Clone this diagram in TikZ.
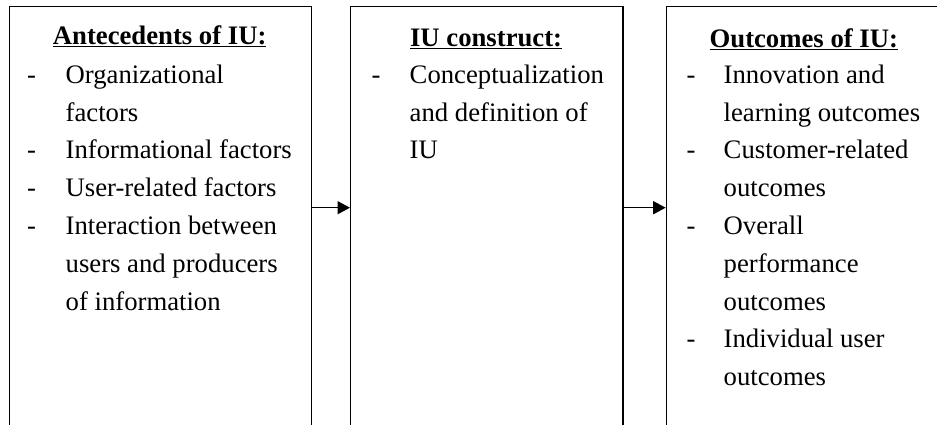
\documentclass[tikz,border=0pt]{standalone}
\usepackage{fontspec}
\setmainfont{Liberation Serif}
\usetikzlibrary{arrows.meta}
\begin{document}
\begin{tikzpicture}[x=1pt,y=-1pt,
  panel/.style={draw, line width=1.4pt, anchor=north west, inner sep=0pt},
  head/.style={anchor=base, inner sep=0pt, font=\fontsize{26.7}{32}\selectfont\bfseries},
  entry/.style={anchor=base west, inner sep=0pt, font=\fontsize{26.7}{32}\selectfont},
  link/.style={line width=1.4pt, -{Triangle[length=12.5pt,width=13pt]}}]
\useasboundingbox (0,0) rectangle (937,424);
\begin{scope}
\clip (0,0) rectangle (937,424);
% the three panels, running past the lower edge
\node[panel, minimum width=301.5pt, minimum height=460pt] (ante) at (9,6) {};
\node[panel, minimum width=272.3pt, minimum height=460pt] (cons) at (350,6) {};
\node[panel, minimum width=276pt, minimum height=460pt] (outc) at (665.7,6) {};

% headings
\node[head] (ah) at (159.7,44.5) {\underline{Antecedents of IU:}};
\node[head] (ch) at (486.1,46.5) {\underline{IU construct:}};
\node[head] (oh) at (803.8,47.5) {\underline{Outcomes of IU:}};

% antecedents
\foreach \k in {0,2,3,4}
  \node[entry] (ad\k) at (27,83.3+37.8*\k) {-};
\foreach \k/\t in {0/Organizational, 1/factors, 2/Informational factors,
    3/User-related factors, 4/Interaction between, 5/users and producers,
    6/of information}
  \node[entry] (at\k) at (65.5,83.3+37.8*\k) {\t};

% construct
\node[entry] (cd0) at (371.5,83.3) {-};
\foreach \k/\t in {0/Conceptualization, 1/and definition of, 2/IU}
  \node[entry] (ct\k) at (409.5,83.3+37.8*\k) {\t};

% outcomes
\foreach \k in {0,2,4,7}
  \node[entry] (od\k) at (686.5,83.3+37.8*\k) {-};
\foreach \k/\t in {0/Innovation and, 1/learning outcomes, 2/Customer-related,
    3/outcomes, 4/Overall, 5/performance, 6/outcomes, 7/Individual user,
    8/outcomes}
  \node[entry] (ot\k) at (723.5,83.3+37.8*\k) {\t};

% connectors
\coordinate (lvl) at (0,207.7);
\draw[link] (ante.east |- lvl) -- (cons.west |- lvl);
\draw[link] (cons.east |- lvl) -- (outc.west |- lvl);
\end{scope}
\end{tikzpicture}
\end{document}
